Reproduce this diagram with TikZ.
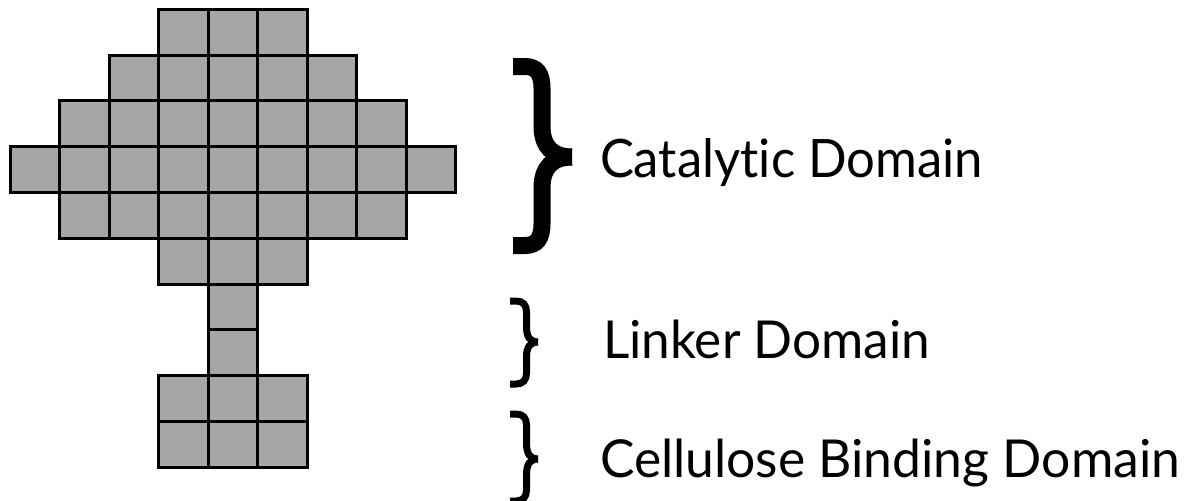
\documentclass[tikz,border=0pt]{standalone}
\usepackage{graphicx}
\usepackage{fontspec}
\setmainfont{Lato}[Ligatures={NoCommon}]
\definecolor{cellgray}{HTML}{A6A6A6}
\begin{document}
\begin{tikzpicture}[x=1pt,y=-1pt,
  cell/.style={fill=cellgray,draw=black,line width=3pt},
  bigbrace/.style={draw=black,line width=17pt,line cap=butt},
  smallbrace/.style={draw=black,line width=7pt,line cap=butt},
  lbl/.style={anchor=base west,inner sep=0pt,outer sep=0pt}]
\useasboundingbox (0,0) rectangle (1187,501);
\clip (0,0) rectangle (1187,501);
% grid of cells
\foreach \r/\a/\b in {0/3/5,1/2/6,2/1/7,3/0/8,4/1/7,5/3/5,6/4/4,7/4/4,8/3/5,9/3/5}{
  \foreach \c in {\a,...,\b}{
    \draw[cell] ({10+\c*49.5},{9.3+\r*45.8}) rectangle ++(49.5,45.8);
  }
}
% catalytic brace
\draw[bigbrace] (513,66.5) -- (525,66.5) .. controls (537,66.5) and (542,74) .. (542,88)
  -- (542,126) .. controls (542,147) and (553,157) .. (572,157);
\draw[bigbrace] (513,245.5) -- (525,245.5) .. controls (537,245.5) and (542,238) .. (542,224)
  -- (542,188) .. controls (542,167) and (553,157) .. (572,157);
% linker brace
\draw[smallbrace] (510,301) -- (516,301) .. controls (523,301) and (526.5,305) .. (526.5,312)
  -- (526.5,327) .. controls (526.5,337) and (530,342) .. (538,342);
\draw[smallbrace] (510,384) -- (516,384) .. controls (523,384) and (526.5,380) .. (526.5,373)
  -- (526.5,357) .. controls (526.5,347) and (530,342) .. (538,342);
% cellulose binding brace
\draw[smallbrace] (510,414) -- (516,414) .. controls (523,414) and (526.5,418) .. (526.5,425)
  -- (526.5,443) .. controls (526.5,454) and (530,459) .. (538,459);
\draw[smallbrace] (510,501) -- (516,501) .. controls (523,501) and (526.5,497) .. (526.5,490)
  -- (526.5,475) .. controls (526.5,464) and (530,459) .. (538,459);
% labels
\node[lbl] (cat) at (600,177) {\resizebox{383pt}{39pt}{Catalytic Domain}};
\node[lbl] (lnk) at (603,358) {\resizebox{327pt}{38.5pt}{Linker Domain}};
\node[lbl] (cbd) at (600,477) {\resizebox{580pt}{38.5pt}{Cellulose Binding Domain}};
\end{tikzpicture}
\end{document}
